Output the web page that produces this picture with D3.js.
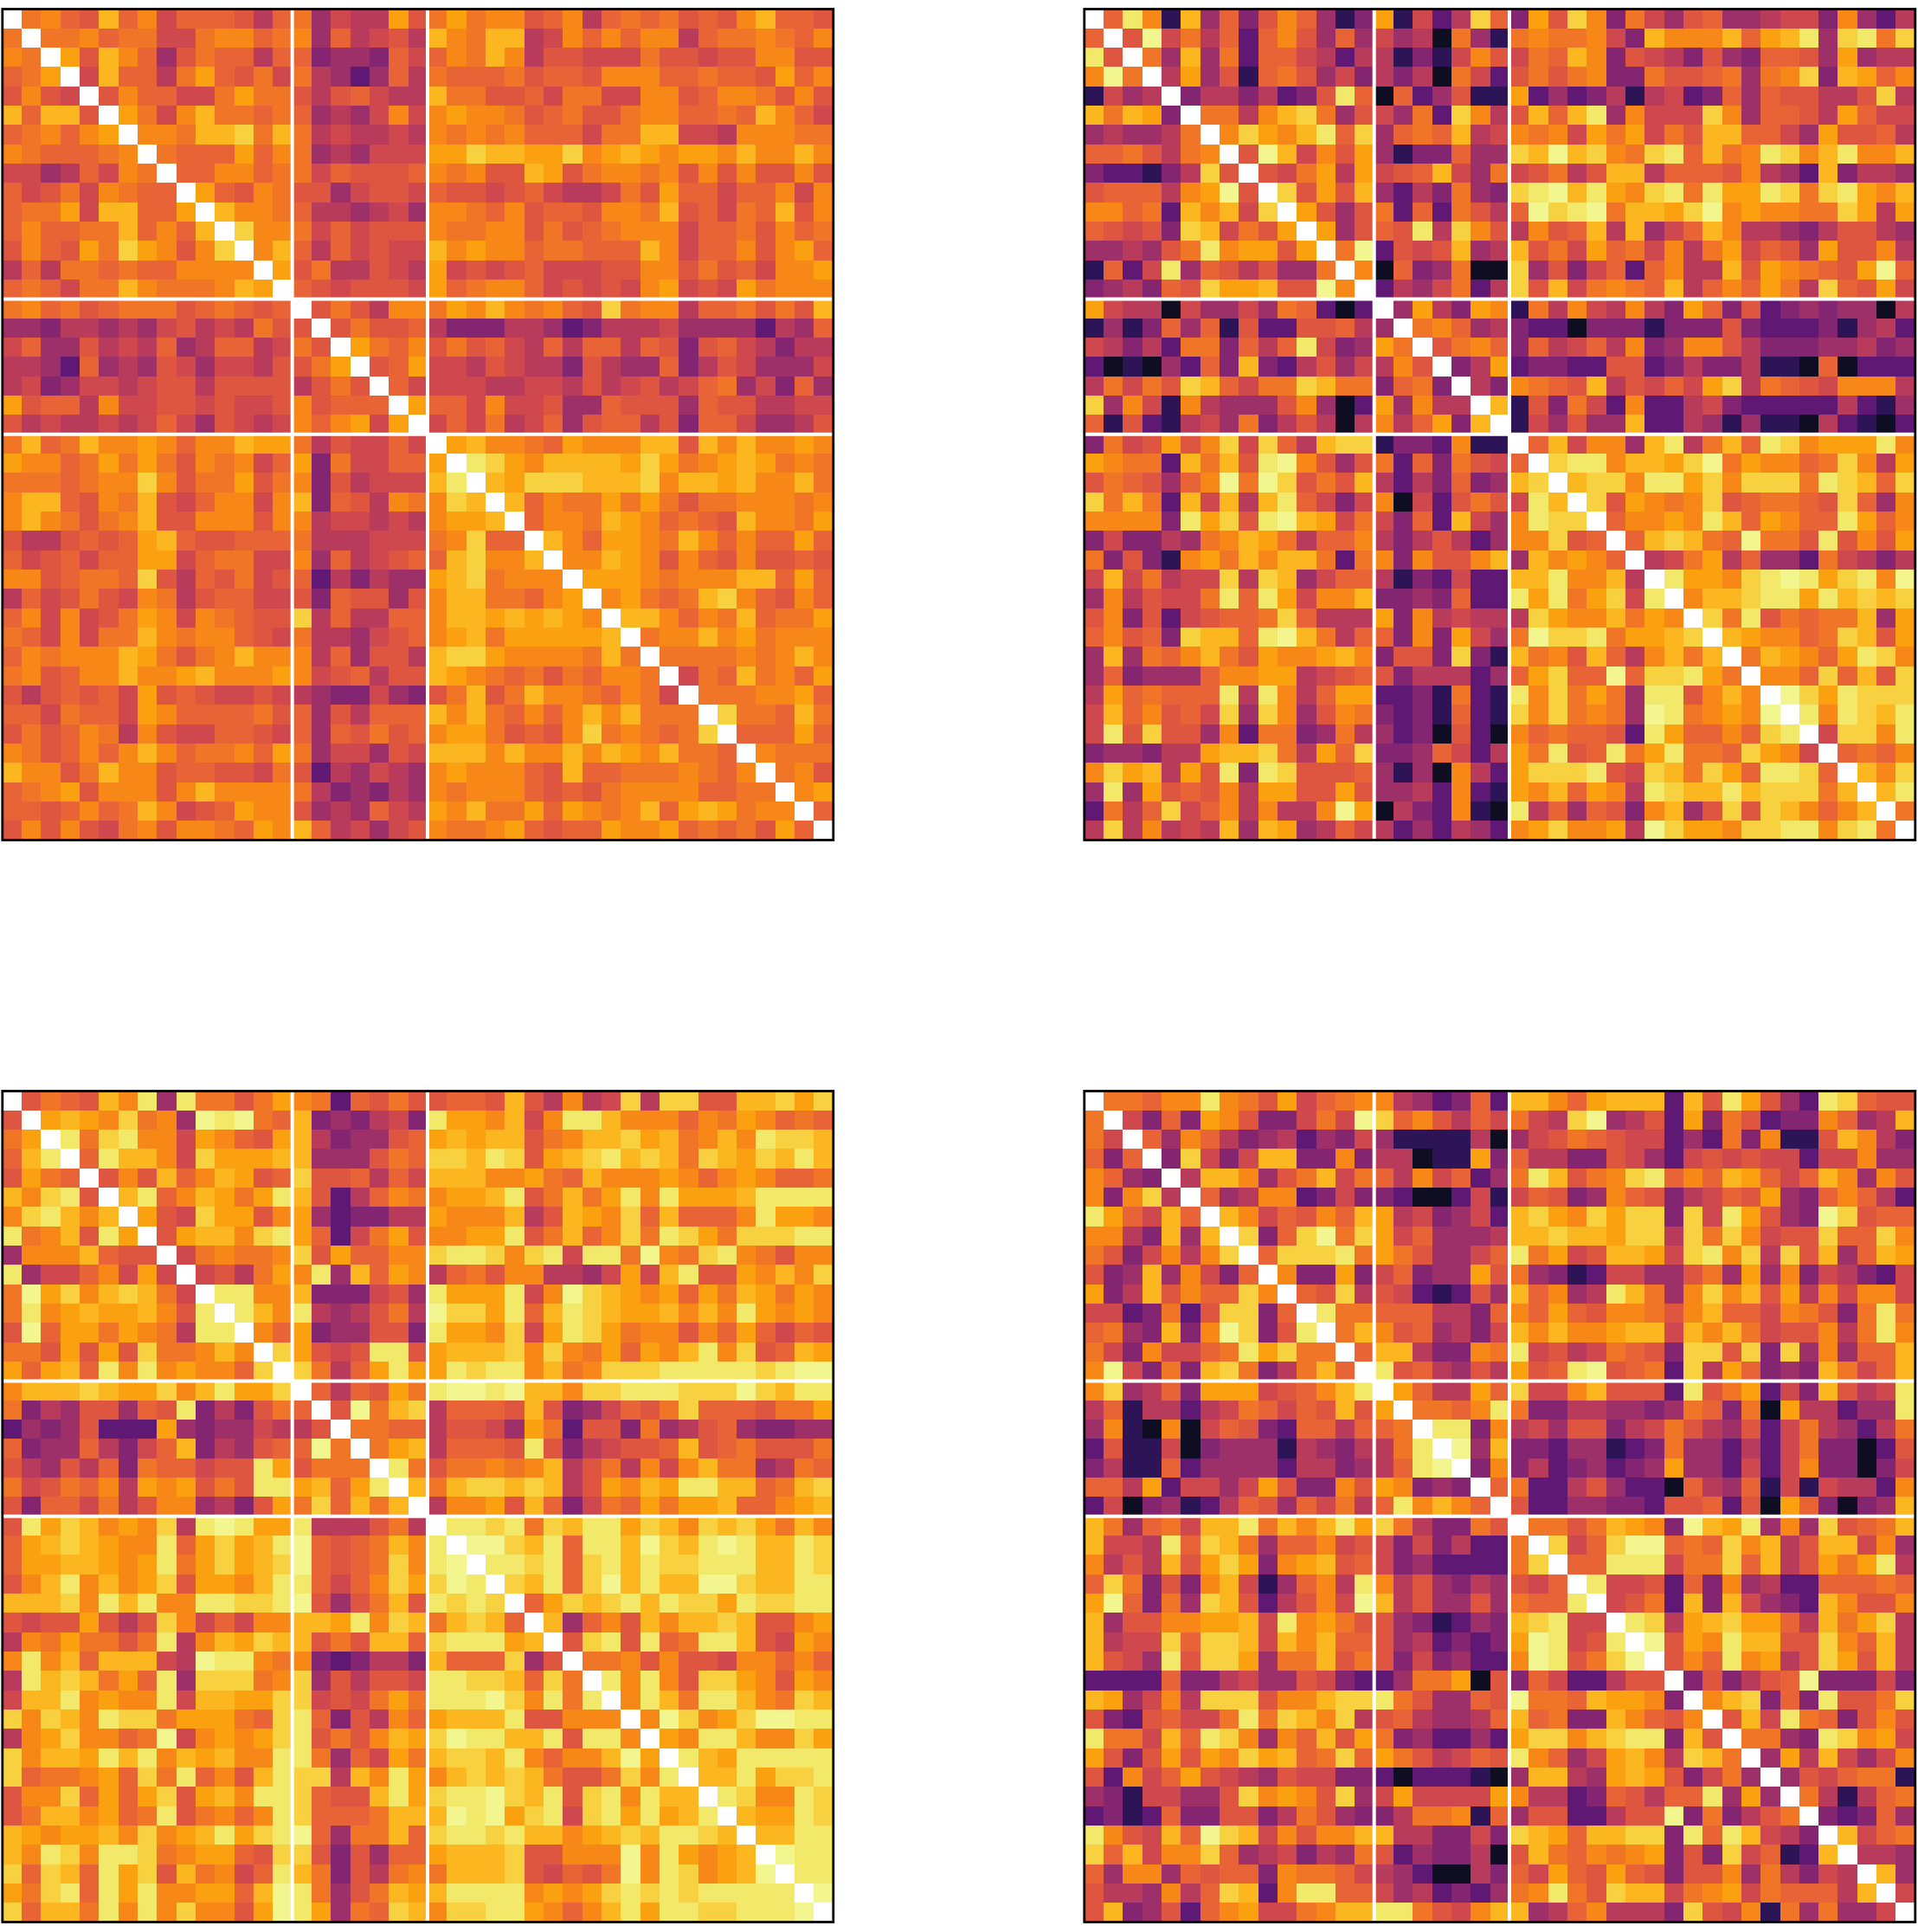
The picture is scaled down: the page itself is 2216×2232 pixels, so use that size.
<!DOCTYPE html>
<html>
<head>
<meta charset="utf-8">
<script src="https://cdn.jsdelivr.net/npm/d3@7"></script>
<style>
    body { margin: 0; background: #fff; }
    svg { display: block; }
</style>
</head>
<body>
<svg id="chart"></svg>
<script>
// colour level for each hex digit used in the rows below
const levels = [0.05, 0.14, 0.26, 0.35, 0.42, 0.49, 0.55, 0.60, 0.64, 0.685, 0.73, 0.785, 0.83, 0.885, 0.935, 0.97];

// groups of items, white lines are drawn at these boundaries
const groupBreaks = [15, 22];

// upper triangle of each symmetric matrix, row i holds columns i+1..42
// spaces only split the three groups
const panelA = [
    "9a87c8a6888758 94655b7 9b9aa78a58989787ac887",
    "99a899669aa89 a485675 ca9cc56a8a8aa5899a98a",
    "b7ca84798858 8344386 8a9ca577666977677aa77",
    "6c8859b8796 9542485 988897887aaa889887b8a",
    "7a88669b99 7578655 c9977869966aa78aa97a7",
    "b96ac9989 84546a6 abaa9789779aa8898ca86",
    "aa9ccd9c 9565565 a9a9a888699cc665aaa99",
    "9888b8a 9454666 bbdccbbdabcbabbacaaca",
    "88aa89 9687778 a9a77cb79aa9a7a7a77a7",
    "b87a9 7746776 877678655697b88688a6a",
    "caa9 8554564 aa98a7887aa9c78698c7a",
    "daa 9686777 a99aa79789aaa68897a89",
    "ac 8586766 cabaa899888ca688a7ab8",
    "b 7955765 b6767866677aa79786aab",
    "8767776 b89aa867676ab676b9aaa",
    "7975aa 9baca9a87d9aa5889797c",
    "79778 533355423555644442548",
    "b98a 797865858858737865355",
    "78b 665765537544835764446",
    "86 666556657567568946384",
    "b 886a66744877748775566",
    "686956847885738864457",
    "bcaa98baaacc7cacaaba",
    "edbaccccbdb9abcb9a9",
    "cbdddcccdaccbcaac9",
    "c8a99b9b9799aaa9a",
    "8aa9cba8987caa9b",
    "ca8bba9ca8a88b8",
    "aacba7a87a7787",
    "bbba9aaacc8b8",
    "ab989cda87a8",
    "cca8a9c899b",
    "9aacab9aaa",
    "9999a9aca",
    "698c9a8b",
    "999aab8",
    "d998c9",
    "888b8",
    "a999",
    "9a7",
    "ab",
    "8"
];

const panelB = [
    "8ea1c4837a8413 b1625d8 3b7da396478445663a425",
    "7f695828a7484 6450941 9a99a63caaac8bce4de9d",
    "94c492886525 51316a7 698ca376537438874b455",
    "5b471897463 5350962 7979a339778949ad3cb8a",
    "35535237e8 0824711 b242351562384877557d5",
    "995acd947 6492da5 7c8ce4a666da48875b866",
    "adbace8d 4898c56 a9a6b9b697cc8864b7785",
    "7fc6a7b 4133844 dcfcda9de8c9aedaceaac",
    "769b5b 678c649 67957cc58887a542c3554",
    "d7b7c 4253943 defcebade9ebbed9debac",
    "b747 9282975 8fdef9ccbdfabaa99db5b",
    "b47 87e5da7 5a78c5c468ca554357754",
    "9f 2767c45 c796b896a59b6874b77a5",
    "a 0834900 d4736828a55c7ba987bf8",
    "2546925 d7c69a98c58a8b95d87b6",
    "4b53ba 195a65a53b83723434405",
    "9a845 322033313337322231452",
    "79a8 385685a34aa7533344534",
    "35b 233227723533511080222",
    "53 a987c57686bd59876aaa5",
    "c 173962a22563222225214",
    "164744c22541411052102",
    "8c6aa4ce59c8edabbbea",
    "deeaccbdf9baa89da5b",
    "cddaeebdaddd9edc8d",
    "d7ba9ad789987d84a",
    "8aabaec8ba88eb8a",
    "8cdc98f997e7a7b",
    "569b5844296535",
    "ebbadefebdeaf",
    "accdeebecdcd",
    "d9e79899c4b",
    "cbaa89dc7b",
    "9cba8beda",
    "aa8d8c7d",
    "fdbeddd",
    "eaedce",
    "6ddae",
    "898a",
    "cad",
    "ce",
    "9"
];

const panelC = [
    "7987cae4e9979b a928797 7887c75a56d5dd77ccdbd",
    "bcbad9a4fef98 c343563 ebbac6aeecaaa8a9ba898",
    "e9deaa6ba87b c534478 bcbcc79accdbc9acaeddc",
    "8ecca6dbbbc c444798 ddced7bcdecdc9dcbdcec",
    "7a7c8acb78 d778586 cccaab98caaaba8aba889",
    "ce8acb9be c7258a9 abbce79c9beaebbbceeee",
    "b76dbb7a b423355 baaac57cbad8c888aebba",
    "7bccade b8269b7 aabbe79c8ad9edb9dddee",
    "69a99a d7b88aa deedade6ee9fa9dea97aa",
    "6759b ae4c8ba 5897aa5546b6ce77bacad",
    "eeaa c333674 ebbbe6afdcbab8b9cb9ba",
    "eca e545795 fddbe8cedcbbcacaebaba",
    "a8 b344773 ebbad6bedb9aa7a8b8687",
    "d b767ee7 bcccdada9b8bacead78cb",
    "d958beb bedeeac9adddeeeeedeff",
    "8587b9 effefccaddeeedddfdcee",
    "7f9cd 58887c7346879d888799b",
    "9988 57764b927739457843344",
    "9bc 58887e7356778c7897779",
    "e9 799a9ac5795a6ac994598",
    "c 9cddcdc57bacbeecc89cd",
    "5aab7c83698b9bbc88abc",
    "eede9dceebdcadcdb9ca",
    "ffdce8eecfdcefecced",
    "eede8deceddeeecced",
    "dce8dfceccffdccee",
    "8bdcdeceddbeddee",
    "c48a7caccdc77ab",
    "7de7e89eec76ba",
    "99a7a776aa8a8",
    "eaea7ddba7ba",
    "aec9eeca9dc",
    "afdabdffee",
    "baeecaadb",
    "ecbeeeee",
    "ccebdde",
    "edaaed",
    "cbbed",
    "ccee",
    "fee",
    "ee",
    "f"
];

const panelD = [
    "998aaea97b689a a542382 cca8bccc2c7eb742ed877",
    "6383ba733696f d8a7586 965df4572b397233a845c",
    "84a853452436 4111150 4679876624293a117ca53",
    "3d636cc33a3 55011b3 855337642676766266a44",
    "5cca479c69 85a6824 9ec79ade8a8cb868ca4a7",
    "845aa2363 3200261 68734a8735687b438a852",
    "ca687a8c b563462 cdbadbdd3d6eb743fd788",
    "d38df9d b684445 ccdccbdd5d9da677d88da",
    "8ddde9 b974468 e9b67ccb6dead5d7c48cb",
    "a33b3 68344b7 943126644794b4a365326",
    "87d5 7621274 c8a45ec94adac7b5a6aa6",
    "e99 8885538 a8b87aa97ac886a9739e9",
    "9c a784536 cacaabcc6cac9677a59ea",
    "8 cc533a9 e67569873dd7d3d4a488c",
    "e785475 b78ef7892d5b8343c968c",
    "b855b8 d66ac7772e79b263c756e",
    "998ae 93355443498390b55244e",
    "ee3a 564773569754726954259",
    "f4c 332441239442526933027",
    "3a 35234234b442626a33036",
    "8 92257422085481616552a",
    "72244332778270b83034c",
    "9979cba3fcbe4a4d789c",
    "d68dff898dac57cc6a4",
    "88eee699d8c57b9be5",
    "e667283a452288898",
    "6792c3c6432ca77a",
    "ed5bcdbb85c9bd5",
    "f7baecc77da8c5",
    "7a8eab57db7c5",
    "373578f33363",
    "acd383e779d",
    "7c6e9837a7",
    "9943edab6",
    "4b5c646a",
    "4768991",
    "951589",
    "32384",
    "c689",
    "554",
    "c4",
    "6"
];

const panels = [panelA, panelB, panelC, panelD];

const svgWidth = 2216, svgHeight = 2232;
const size = 43;
const panelSize = 960;
const origin = {x: 2.8, y: 10.5};
const gap = 1250;

const svg = d3.select('#chart')
    .attr('width', svgWidth)
    .attr('height', svgHeight);

const x = d3.scaleBand().domain(d3.range(size)).range([0, panelSize]);
const color = d3.scaleSequential(d3.interpolateInferno).domain([0, 1]);

// turn the triangle rows into one record per cell, both sides of the diagonal
function parseCells(rows) {
    var cells = [];
    rows.forEach((row, i) => {
        var codes = row.replace(/\s/g, '');
        for (var k = 0; k < codes.length; k++) {
            var j = i + 1 + k;
            var value = levels[parseInt(codes[k], 16)];
            cells.push({row: i, col: j, value: value});
            cells.push({row: j, col: i, value: value});
        }
    });
    return cells;
}

panels.forEach((rows, n) => {
    var g = svg.append('g')
        .attr('transform', 'translate(' + (origin.x + (n % 2) * gap) + ',' + (origin.y + Math.floor(n / 2) * gap) + ')');

    g.selectAll('rect.cell')
        .data(parseCells(rows))
        .enter().append('rect')
        .attr('class', 'cell')
        .attr('x', d => x(d.col))
        .attr('y', d => x(d.row))
        .attr('width', x.bandwidth())
        .attr('height', x.bandwidth())
        .attr('shape-rendering', 'crispEdges')
        .attr('fill', d => color(d.value))
        .attr('fill-opacity', 0.97);

    // white separators between the groups
    groupBreaks.forEach(b => {
        g.append('line')
            .attr('x1', x(b)).attr('x2', x(b))
            .attr('y1', 0).attr('y2', panelSize)
            .attr('stroke', '#fff').attr('stroke-width', 4);
        g.append('line')
            .attr('x1', 0).attr('x2', panelSize)
            .attr('y1', x(b)).attr('y2', x(b))
            .attr('stroke', '#fff').attr('stroke-width', 4);
    });

    g.append('rect')
        .attr('width', panelSize)
        .attr('height', panelSize)
        .attr('fill', 'none')
        .attr('stroke', '#000')
        .attr('stroke-width', 2.8);
});
</script>
</body>
</html>
